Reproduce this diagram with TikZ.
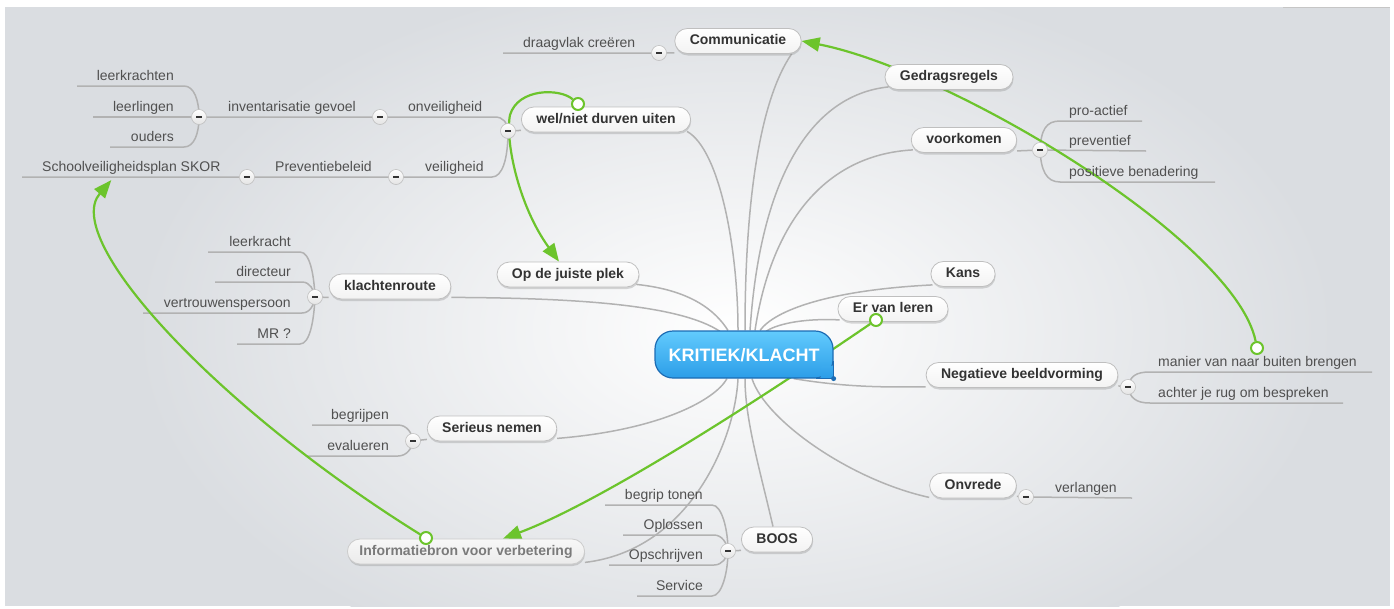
\documentclass[tikz,border=0pt]{standalone}
\usepackage{fontspec}
\setmainfont{Liberation Sans}
\usetikzlibrary{arrows.meta,shadows}
\pgfdeclarelayer{bglayer}
\pgfdeclarelayer{linelayer}
\pgfsetlayers{bglayer,linelayer,main}
\definecolor{bgc}{HTML}{DADDE1}
\definecolor{branchc}{HTML}{B2B2B2}
\definecolor{leafc}{HTML}{505050}
\definecolor{mainc}{HTML}{333333}
\definecolor{infoc}{HTML}{7A7A7A}
\definecolor{greenc}{HTML}{6CC42C}
\definecolor{blueT}{HTML}{62CBFD}
\definecolor{blueB}{HTML}{2C9DE8}
\definecolor{blueD}{HTML}{1C6CB4}
\begin{document}
\begin{tikzpicture}[x=1pt,y=-1pt,
  mainnode/.style={rounded corners=12.5pt, draw=gray!50, line width=0.8pt, top color=white, bottom color=gray!10,
    minimum height=25pt, inner xsep=15pt, inner ysep=0pt, text height=10pt, text depth=3pt,
    font=\fontsize{14}{16}\selectfont\bfseries, text=mainc,
    drop shadow={shadow xshift=0.5pt, shadow yshift=-2pt, opacity=0.3, fill=gray}},
  infonode/.style={mainnode, top color=gray!6, bottom color=gray!16, draw=gray!40, inner xsep=12pt,
    font=\fontsize{14}{16}\selectfont\bfseries, text=infoc},
  central/.style={rounded corners=18pt, draw=blueD, line width=1.2pt, top color=blueT, bottom color=blueB,
    minimum width=178pt, minimum height=47pt, text=white, font=\fontsize{18}{20}\selectfont\bfseries,
    text height=13pt, text depth=0pt},
  leaf/.style={font=\fontsize{14}{16}\selectfont, text=leafc, inner sep=0pt},
  colbtn/.style={circle, draw=gray!50, line width=0.6pt, top color=white, bottom color=gray!22,
    minimum size=15pt, inner sep=0pt},
  branch/.style={draw=branchc, line width=1.5pt},
  rel/.style={draw=greenc, line width=2.2pt},
  relarrow/.style={rel, -{Triangle[length=18pt,width=14pt]}},
  relstart/.style={circle, draw=greenc, line width=2pt, fill=white, minimum size=12pt, inner sep=0pt}
]
\useasboundingbox (0,0) rectangle (1394,608);
\begin{pgfonlayer}{bglayer}
  \fill[white] (0,0) rectangle (1394,608);
  \begin{scope}
    \clip (5,7) rectangle (1390,606);
    \fill[bgc] (5,7) rectangle (1390,606);
    \shade[inner color=white, outer color=bgc] (735,330) ellipse [x radius=600, y radius=360];
  \end{scope}
  \draw[gray!45, line width=0.8pt] (1283,7) -- (1390,7);
\end{pgfonlayer}

% central
\node[central] (kr) at (744,354.5) {KRITIEK/KLACHT};
\shade[top color=blueT!26!blueB, bottom color=blueB] ([xshift=-12pt,yshift=12pt]kr.south east) rectangle ([xshift=-0.6pt,yshift=0.6pt]kr.south east);
\draw[blueD, line width=1.2pt] ([yshift=18pt]kr.south east) -- (kr.south east) -- ([xshift=-18pt]kr.south east);
\fill[blueD] (kr.south east) circle (2.5pt);

% main nodes
\node[mainnode] (com) at (738,41) {Communicatie};
\node[mainnode] (ged) at (949,77) {Gedragsregels};
\node[mainnode] (wel) at (606,119.5) {wel/niet durven uiten};
\node[mainnode] (voo) at (964,140) {voorkomen};
\node[mainnode] (opd) at (568,274.5) {Op de juiste plek};
\node[mainnode] (kla) at (390,286.5) {klachtenroute};
\node[mainnode] (kan) at (963,274) {Kans};
\node[mainnode] (erv) at (893,309) {Er van leren};
\node[mainnode] (neg) at (1022,375) {Negatieve beeldvorming};
\node[mainnode] (ser) at (492,428.5) {Serieus nemen};
\node[mainnode] (onv) at (973,485.5) {Onvrede};
\node[mainnode] (boo) at (777,539.5) {BOOS};
\node[infonode] (inf) at (466,551.5) {Informatiebron voor verbetering};

% collapse buttons
\foreach \n/\p in {bcom/{(659,53)}, bwel/{(508,131)}, bonv/{(380,117)}, binv/{(199,117)},
                   bvei/{(396,177)}, bpre/{(247,177)}, bvoo/{(1040,150)}, bkla/{(315,297)},
                   bneg/{(1128,387)}, bser/{(413,441)}, bonvr/{(1026,497)}, bboo/{(728,551)}}
  \node[colbtn] (\n) at \p {\textcolor{mainc}{\rule{6pt}{2pt}}};

% leaves
\node[leaf, anchor=base east] (lkr) at (174,80) {leerkrachten};
\node[leaf, anchor=base east] (lln) at (174,111) {leerlingen};
\node[leaf, anchor=base east] (oud) at (174,141) {ouders};
\node[leaf, anchor=base west] (inv) at (228,111) {inventarisatie gevoel};
\node[leaf, anchor=base west] (onvl) at (408,111) {onveiligheid};
\node[leaf, anchor=base west] (skor) at (42,171) {Schoolveiligheidsplan SKOR};
\node[leaf, anchor=base west] (prev) at (275,171) {Preventiebeleid};
\node[leaf, anchor=base west] (veil) at (425,171) {veiligheid};
\node[leaf, anchor=base west] (dra) at (523,47) {draagvlak creëren};
\node[leaf, anchor=base west] (pro) at (1069,115) {pro-actief};
\node[leaf, anchor=base west] (pre) at (1069,145) {preventief};
\node[leaf, anchor=base west] (pos) at (1069,176) {positieve benadering};
\node[leaf, anchor=base east] (lk) at (291,246) {leerkracht};
\node[leaf, anchor=base east] (dir) at (291,276) {directeur};
\node[leaf, anchor=base east] (ver) at (291,307) {vertrouwenspersoon};
\node[leaf, anchor=base east] (mr) at (291,338) {MR ?};
\node[leaf, anchor=base west] (man) at (1158,366) {manier van naar buiten brengen};
\node[leaf, anchor=base west] (ach) at (1158,397) {achter je rug om bespreken};
\node[leaf, anchor=base east] (beg) at (389,419) {begrijpen};
\node[leaf, anchor=base east] (eva) at (389,450) {evalueren};
\node[leaf, anchor=base west] (verl) at (1055,492) {verlangen};
\node[leaf, anchor=base east] (bt) at (703,499) {begrip tonen};
\node[leaf, anchor=base east] (opl) at (703,529) {Oplossen};
\node[leaf, anchor=base east] (ops) at (703,559) {Opschrijven};
\node[leaf, anchor=base east] (serv) at (703,590) {Service};

% relation start circles
\node[relstart] (c1) at (1257,348) {};
\node[relstart] (c2) at (578,104) {};
\node[relstart] (c3) at (876,320) {};
\node[relstart] (c4) at (426,538) {};

\begin{pgfonlayer}{linelayer}
  % central connectors
  \draw[branch] ([xshift=-10pt]com.south east) .. controls (760,100) and (745,200) .. ([xshift=1pt]kr.north);
  \draw[branch] ([xshift=4pt,yshift=3pt]ged.south west) .. controls (810,95) and (760,180) .. ([xshift=6pt]kr.north);
  \draw[branch] ([xshift=2pt,yshift=3pt]voo.south west) .. controls (820,155) and (770,230) .. ([xshift=11pt]kr.north);
  \draw[branch] ([xshift=-4pt,yshift=1pt]wel.south east) .. controls (720,150) and (738,250) .. ([xshift=-6pt]kr.north);
  \draw[branch] ([xshift=-3pt,yshift=3pt]opd.south east) .. controls (690,290) and (715,310) .. ([xshift=-16pt]kr.north);
  \draw[branch] ([yshift=2pt]kla.south east) .. controls (580,298) and (680,305) .. ([xshift=-24pt,yshift=-1pt]kr.north);
  \draw[branch] ([xshift=2pt,yshift=2pt]kan.south west) .. controls (830,290) and (775,310) .. ([xshift=16pt]kr.north);
  \draw[branch] ([xshift=2pt,yshift=2pt]erv.south west) .. controls (800,318) and (775,325) .. ([xshift=22pt,yshift=-1pt]kr.north);
  \draw[branch] ([xshift=-40pt]kr.south east) .. controls (850,388) and (890,387) .. ([yshift=1pt]neg.south west);
  \draw[branch] ([yshift=3pt]ser.south east) .. controls (660,430) and (715,400) .. ([xshift=-17pt]kr.south);
  \draw[branch] ([yshift=1pt]onv.south west) .. controls (850,480) and (765,420) .. ([xshift=8pt]kr.south);
  \draw[branch] ([xshift=-4pt]boo.north) .. controls (760,470) and (745,420) .. ([xshift=1pt]kr.south);
  \draw[branch] ([yshift=2pt]inf.south east) .. controls (690,550) and (735,440) .. ([xshift=-6pt]kr.south);

  % sub-branches
  \draw[branch] (77,86) -- (184,86) .. controls (194,86) and (199,100) .. (binv.center);
  \draw[branch] (93,117) -- (binv.center);
  \draw[branch] (110,147) -- (184,147) .. controls (194,147) and (199,134) .. (binv.center);
  \draw[branch] (binv.center) -- (bonv.center) -- (495,117) .. controls (503,117) and (508,123) .. (bwel.center);
  \draw[branch] (22,177) -- (bpre.center) -- (bvei.center) -- (492,177) .. controls (502,177) and (508,160) .. (bwel.center);
  \draw[branch] (bwel.center) -- ([yshift=2pt]wel.south west);
  \draw[branch] (503,53) -- (bcom.center) -- ([yshift=1pt]com.south west);

  \draw[branch] ([yshift=2pt]voo.south east) -- (bvoo.center);
  \draw[branch] (bvoo.center) .. controls (1041,130) and (1046,121) .. (1060,121) -- (1142,121);
  \draw[branch] (bvoo.center) -- (1146,151);
  \draw[branch] (bvoo.center) .. controls (1041,170) and (1046,182) .. (1060,182) -- (1215,182);

  \draw[branch] ([yshift=2pt]kla.south west) -- (bkla.center);
  \draw[branch] (208,252) -- (300,252) .. controls (310,252) and (314,275) .. (bkla.center);
  \draw[branch] (215,282) -- (302,282) .. controls (310,282) and (314,290) .. (bkla.center);
  \draw[branch] (143,313) -- (302,313) .. controls (310,313) and (314,305) .. (bkla.center);
  \draw[branch] (237,344) -- (300,344) .. controls (310,344) and (314,320) .. (bkla.center);

  \draw[branch] ([yshift=2pt]neg.south east) -- (bneg.center);
  \draw[branch] (bneg.center) .. controls (1130,376) and (1136,372) .. (1150,372) -- (1372,372);
  \draw[branch] (bneg.center) .. controls (1130,398) and (1136,403) .. (1150,403) -- (1343,403);

  \draw[branch] ([yshift=2pt]ser.south west) -- (bser.center);
  \draw[branch] (312,425) -- (398,425) .. controls (407,425) and (412,433) .. (bser.center);
  \draw[branch] (307,456) -- (398,456) .. controls (407,456) and (412,448) .. (bser.center);

  \draw[branch] ([yshift=2pt]onv.south east) -- (bonvr.center) -- (1132,498);

  \draw[branch] ([yshift=2pt]boo.south west) -- (bboo.center);
  \draw[branch] (605,505) -- (712,505) .. controls (722,505) and (728,530) .. (bboo.center);
  \draw[branch] (623,535) -- (714,535) .. controls (722,535) and (727,543) .. (bboo.center);
  \draw[branch] (609,565) -- (714,565) .. controls (722,565) and (727,558) .. (bboo.center);
  \draw[branch] (637,596) -- (712,596) .. controls (722,596) and (728,572) .. (bboo.center);

  % relations
  \draw[relarrow] (c1) .. controls (1235,240) and (950,70) .. (com.east);
  \draw[relarrow] (c2) .. controls (560,88) and (518,88) .. (510,115) .. controls (505,140) and (518,205) .. ([xshift=-9pt]opd.north);
  \draw[relarrow] (c3) .. controls (700,440) and (580,510) .. ([xshift=37pt]inf.north);
  \draw[relarrow] (c4) .. controls (220,410) and (60,240) .. ([xshift=-20pt,yshift=-6pt]skor.south);
\end{pgfonlayer}
\end{tikzpicture}
\end{document}
